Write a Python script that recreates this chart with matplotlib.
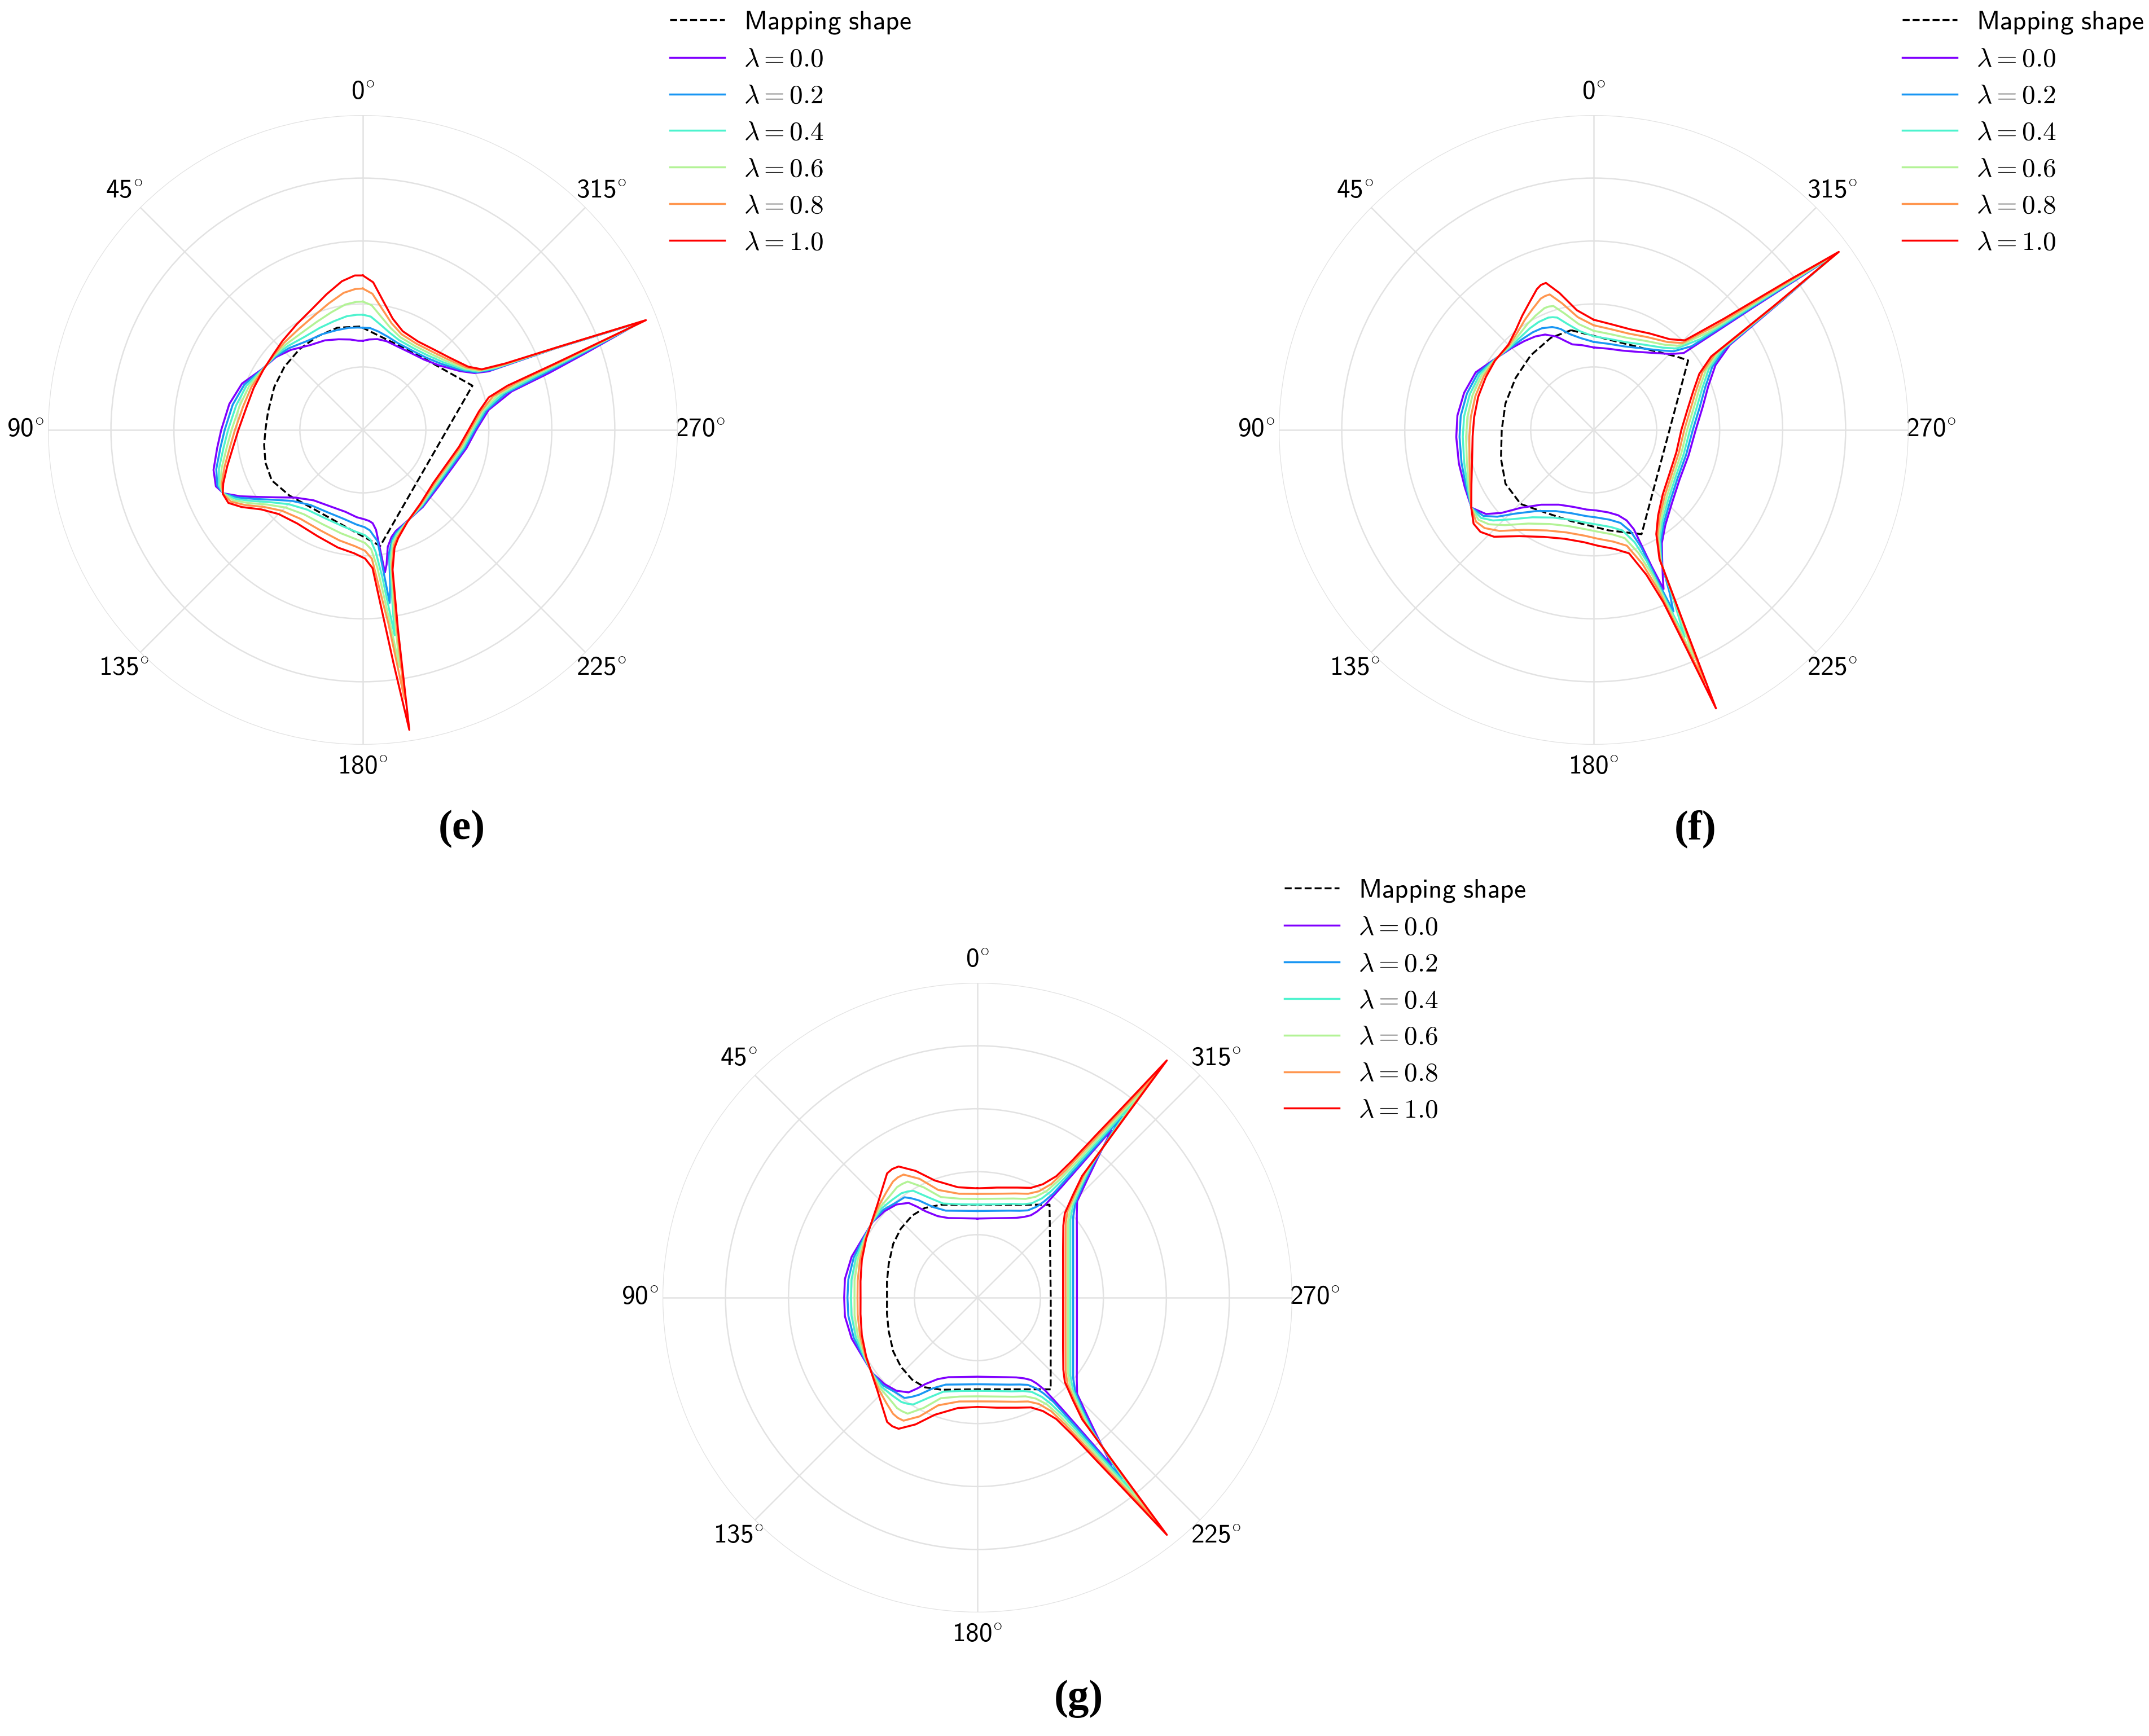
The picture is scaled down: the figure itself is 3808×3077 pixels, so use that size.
import numpy as np
import matplotlib
matplotlib.use("Agg")
import matplotlib.pyplot as plt

# ---- data (angles in degrees, radius in grid-ring units) ----
lambdas = [0.0, 0.2, 0.4, 0.6, 0.8, 1.0]
angle_ticks = [0, 45, 90, 135, 180, 225, 270, 315]

# panel (e)
e_theta = [0, 3, 8, 15, 23, 32, 42, 50, 59, 69, 79,
           90, 97, 105, 111, 114.5, 118.5, 122.5, 128, 135, 145,
           157, 168, 176, 181, 184, 186, 187.5, 188.8, 190, 192,
           195, 198, 206, 218, 233, 247, 260, 270, 279, 284.5,
           287, 289, 291.2, 293, 295, 297, 301, 310, 319, 328,
           338, 345, 351, 356]
e_r_00 = [1.415, 1.418, 1.45, 1.49, 1.545, 1.587, 1.71, 1.80, 1.87, 2.055, 2.16,
          2.249, 2.33, 2.455, 2.50, 2.43, 2.21, 1.98, 1.74, 1.52, 1.365,
          1.32, 1.33, 1.39, 1.42, 1.45, 1.49, 1.6, 2.29, 2.17, 1.90,
          1.76, 1.69, 1.61, 1.55, 1.50, 1.54, 1.67, 1.80, 2.02, 2.44,
          3.09, 3.73, 4.72, 3.3, 2.2, 1.99, 1.81, 1.59, 1.48, 1.44,
          1.435, 1.458, 1.46, 1.44]
e_r_02 = [1.623, 1.628, 1.637, 1.638, 1.652, 1.666, 1.749, 1.812, 1.865, 2.015, 2.105,
          2.194, 2.278, 2.41, 2.475, 2.433, 2.254, 2.04, 1.802, 1.594, 1.455,
          1.423, 1.446, 1.505, 1.545, 1.6, 1.7, 1.78, 2.78, 2.5, 2.0,
          1.80, 1.714, 1.612, 1.537, 1.48, 1.519, 1.646, 1.776, 1.989, 2.365,
          2.952, 3.624, 4.74, 3.316, 2.26, 2.016, 1.838, 1.63, 1.524, 1.483,
          1.486, 1.532, 1.582, 1.622]
e_r_04 = [1.830, 1.831, 1.824, 1.786, 1.759, 1.744, 1.788, 1.824, 1.861, 1.976, 2.049,
          2.140, 2.226, 2.365, 2.45, 2.436, 2.298, 2.10, 1.864, 1.668, 1.545,
          1.526, 1.562, 1.62, 1.67, 1.75, 1.95, 2.35, 3.30, 2.65, 2.08,
          1.83, 1.738, 1.614, 1.524, 1.46, 1.497, 1.622, 1.752, 1.958, 2.29,
          2.814, 3.518, 4.76, 3.332, 2.32, 2.042, 1.866, 1.67, 1.568, 1.526,
          1.537, 1.607, 1.704, 1.804]
e_r_06 = [2.038, 2.036, 2.011, 1.934, 1.866, 1.823, 1.827, 1.836, 1.856, 1.936, 1.994,
          2.085, 2.174, 2.32, 2.425, 2.439, 2.342, 2.16, 1.926, 1.742, 1.635,
          1.629, 1.678, 1.735, 1.794, 1.9, 2.2, 2.8, 3.81, 2.8, 2.15,
          1.86, 1.762, 1.616, 1.511, 1.44, 1.476, 1.598, 1.727, 1.927, 2.215,
          2.676, 3.412, 4.78, 3.348, 2.38, 2.068, 1.894, 1.71, 1.612, 1.569,
          1.588, 1.681, 1.826, 1.986]
e_r_08 = [2.245, 2.242, 2.198, 2.082, 1.973, 1.901, 1.866, 1.848, 1.851, 1.897, 1.938,
          2.031, 2.122, 2.275, 2.40, 2.442, 2.386, 2.22, 1.988, 1.816, 1.725,
          1.732, 1.794, 1.85, 1.919, 2.05, 2.55, 3.1, 4.32, 3.0, 2.22,
          1.90, 1.786, 1.618, 1.498, 1.42, 1.454, 1.574, 1.703, 1.896, 2.14,
          2.538, 3.306, 4.80, 3.364, 2.44, 2.094, 1.922, 1.75, 1.656, 1.612,
          1.639, 1.756, 1.948, 2.168]
e_r_10 = [2.453, 2.456, 2.385, 2.23, 2.08, 1.98, 1.905, 1.86, 1.846, 1.857, 1.883,
          1.976, 2.07, 2.23, 2.375, 2.445, 2.43, 2.28, 2.05, 1.89, 1.815,
          1.835, 1.91, 1.965, 2.044, 2.2, 2.88, 3.75, 4.82, 3.2, 2.27,
          1.94, 1.81, 1.62, 1.485, 1.40, 1.433, 1.55, 1.679, 1.865, 2.065,
          2.40, 3.2, 4.82, 3.38, 2.5, 2.12, 1.95, 1.79, 1.70, 1.655,
          1.69, 1.83, 2.07, 2.35]
e_map_theta = [1.5, 14, 26.1, 38.1, 51.2, 64.2, 79.5, 90, 98.7, 108.6,
               119, 131.8, 188.5, 292, 325.6]
e_map_r = [1.643, 1.673, 1.651, 1.63, 1.599, 1.563, 1.533, 1.547, 1.586, 1.632,
           1.654, 1.564, 1.864, 1.876, 1.47]

# panel (f)
f_theta = [0, 8, 14, 18, 20, 22, 27, 32, 38, 45, 55,
           64, 74, 84, 93, 104, 114, 122.5, 128, 132, 137,
           145, 155, 165, 175, 182, 190, 196, 200, 202, 203,
           203.7, 205, 207, 211, 217, 227, 240, 255, 270, 282,
           291, 298, 302, 304.5, 306, 307.5, 310.5, 314.5, 320, 330,
           340, 350]
f_r_00 = [1.31, 1.36, 1.40, 1.49, 1.545, 1.60, 1.70, 1.75, 1.79, 1.84, 1.94,
          2.085, 2.14, 2.176, 2.185, 2.206, 2.24, 2.30, 2.17, 1.97, 1.69,
          1.45, 1.31, 1.265, 1.27, 1.28, 1.33, 1.41, 1.53, 1.70, 2.35,
          2.76, 2.6, 2.4, 2.1, 1.89, 1.70, 1.575, 1.56, 1.62, 1.77,
          1.95, 2.19, 2.55, 3.65, 4.71, 3.2, 1.88, 1.72, 1.59, 1.43,
          1.34, 1.31]
f_r_02 = [1.398, 1.472, 1.568, 1.683, 1.725, 1.762, 1.812, 1.828, 1.834, 1.855, 1.935,
          2.049, 2.094, 2.123, 2.133, 2.163, 2.217, 2.301, 2.22, 2.06, 1.816,
          1.572, 1.423, 1.37, 1.374, 1.392, 1.448, 1.536, 1.714, 2.0, 2.65,
          3.149, 2.85, 2.38, 2.066, 1.852, 1.66, 1.538, 1.52, 1.574, 1.72,
          1.898, 2.132, 2.48, 3.61, 4.73, 3.34, 2.048, 1.782, 1.648, 1.498,
          1.412, 1.388]
f_r_04 = [1.486, 1.584, 1.736, 1.876, 1.905, 1.924, 1.924, 1.906, 1.878, 1.87, 1.93,
          2.014, 2.047, 2.069, 2.081, 2.12, 2.194, 2.302, 2.27, 2.15, 1.942,
          1.694, 1.536, 1.475, 1.478, 1.504, 1.566, 1.662, 1.898, 2.25, 2.95,
          3.59, 3.05, 2.36, 2.032, 1.814, 1.62, 1.501, 1.48, 1.529, 1.67,
          1.846, 2.074, 2.41, 3.57, 4.75, 3.48, 2.216, 1.844, 1.706, 1.566,
          1.484, 1.466]
f_r_06 = [1.574, 1.696, 1.904, 2.069, 2.085, 2.086, 2.036, 1.984, 1.922, 1.885, 1.925,
          1.978, 2.001, 2.016, 2.029, 2.076, 2.171, 2.303, 2.32, 2.24, 2.068,
          1.816, 1.649, 1.58, 1.582, 1.616, 1.684, 1.788, 2.082, 2.5, 3.2,
          3.959, 3.2, 2.34, 1.998, 1.776, 1.58, 1.464, 1.44, 1.483, 1.62,
          1.794, 2.016, 2.34, 3.53, 4.77, 3.62, 2.384, 1.906, 1.764, 1.634,
          1.556, 1.544]
f_r_08 = [1.662, 1.808, 2.072, 2.262, 2.262, 2.248, 2.148, 2.062, 1.966, 1.90, 1.92,
          1.943, 1.954, 1.962, 1.977, 2.033, 2.148, 2.304, 2.37, 2.33, 2.194,
          1.938, 1.762, 1.685, 1.686, 1.728, 1.802, 1.914, 2.266, 2.75, 3.5,
          4.386, 3.3, 2.32, 1.964, 1.738, 1.54, 1.427, 1.40, 1.438, 1.57,
          1.742, 1.958, 2.27, 3.49, 4.79, 3.76, 2.552, 1.968, 1.822, 1.702,
          1.628, 1.622]
f_r_10 = [1.75, 1.92, 2.24, 2.455, 2.45, 2.41, 2.26, 2.14, 2.01, 1.915, 1.915,
          1.907, 1.908, 1.909, 1.925, 1.99, 2.125, 2.305, 2.42, 2.42, 2.32,
          2.06, 1.875, 1.79, 1.79, 1.84, 1.92, 2.04, 2.45, 2.95, 3.78,
          4.83, 3.35, 2.3, 1.93, 1.70, 1.50, 1.39, 1.36, 1.392, 1.52,
          1.69, 1.90, 2.2, 3.45, 4.81, 3.9, 2.72, 2.03, 1.88, 1.77,
          1.70, 1.70]
f_map_theta = [12.8, 24.9, 40.2, 56.4, 73.2, 90, 107.2, 121.4, 135.4, 150,
               166, 188.55, 204.65, 306.35, 311.4, 342.4]
f_map_r = [1.624, 1.614, 1.55, 1.489, 1.463, 1.46, 1.541, 1.641, 1.652, 1.52,
           1.492, 1.614, 1.822, 1.862, 1.76, 1.452]

# panel (g)
g_theta = [0, 10, 20, 26, 31, 33.5, 36, 41, 47, 54, 62, 72, 82, 90,
           98, 108, 118, 126, 133, 139, 144, 146.5, 149, 154, 160, 170, 180,
           190, 200, 206, 210, 213, 214.65, 216.1, 217.2, 217.9, 218.6,
           219.3, 220.7, 223, 226, 230, 240, 255,
           270, 285, 300, 310, 314, 317, 319.3, 320.7, 321.4, 322.1,
           322.8, 323.9, 325.35, 327, 330, 334, 340, 350]
g_r_00 = [1.256, 1.28, 1.345, 1.44, 1.60, 1.73, 1.86, 1.96, 2.015, 2.052, 2.05, 2.10, 2.125, 2.116,
          2.125, 2.10, 2.05, 2.052, 2.015, 1.96, 1.86, 1.73, 1.60, 1.44, 1.345, 1.28, 1.256,
          1.28, 1.345, 1.41, 1.48, 1.56, 1.66, 1.82, 2.2, 2.65, 3.40,
          3.25, 2.93, 2.55, 2.2, 2.06, 1.824, 1.636,
          1.58, 1.636, 1.824, 2.06, 2.2, 2.55, 2.93, 3.25, 3.40, 2.65,
          2.2, 1.82, 1.66, 1.56, 1.48, 1.41, 1.345, 1.28]
g_r_02 = [1.376, 1.40, 1.47, 1.60, 1.80, 1.89, 1.97, 1.99, 2.045, 2.056, 2.04, 2.065, 2.07, 2.064,
          2.07, 2.065, 2.04, 2.056, 2.045, 1.99, 1.97, 1.89, 1.80, 1.60, 1.47, 1.40, 1.376,
          1.40, 1.47, 1.535, 1.60, 1.72, 1.85, 2.05, 2.5, 2.95, 3.68,
          3.32, 2.85, 2.47, 2.16, 1.984, 1.755, 1.574,
          1.52, 1.574, 1.755, 1.984, 2.16, 2.47, 2.85, 3.32, 3.68, 2.95,
          2.5, 2.05, 1.85, 1.72, 1.60, 1.535, 1.47, 1.40]
g_r_04 = [1.48, 1.505, 1.59, 1.77, 1.98, 2.02, 2.05, 2.06, 2.08, 2.06, 2.03, 2.03, 2.02, 2.008,
          2.02, 2.03, 2.03, 2.06, 2.08, 2.06, 2.05, 2.02, 1.98, 1.77, 1.59, 1.505, 1.48,
          1.505, 1.585, 1.65, 1.73, 1.88, 2.05, 2.35, 2.85, 3.3, 3.97,
          3.4, 2.78, 2.41, 2.11, 1.926, 1.703, 1.527,
          1.475, 1.527, 1.703, 1.926, 2.11, 2.41, 2.78, 3.4, 3.97, 3.3,
          2.85, 2.35, 2.05, 1.88, 1.73, 1.65, 1.585, 1.505]
g_r_06 = [1.568, 1.595, 1.70, 1.95, 2.15, 2.165, 2.17, 2.13, 2.11, 2.062, 2.02, 1.995, 1.97, 1.952,
          1.97, 1.995, 2.02, 2.062, 2.11, 2.13, 2.17, 2.165, 2.15, 1.95, 1.70, 1.595, 1.568,
          1.595, 1.675, 1.745, 1.85, 2.02, 2.25, 2.65, 3.2, 3.65, 4.25,
          3.5, 2.7, 2.35, 2.05, 1.88, 1.663, 1.491,
          1.44, 1.491, 1.663, 1.88, 2.05, 2.35, 2.7, 3.5, 4.25, 3.65,
          3.2, 2.65, 2.25, 2.02, 1.85, 1.745, 1.675, 1.595]
g_r_08 = [1.648, 1.675, 1.82, 2.10, 2.28, 2.29, 2.28, 2.21, 2.14, 2.066, 2.01, 1.96, 1.92, 1.904,
          1.92, 1.96, 2.01, 2.066, 2.14, 2.21, 2.28, 2.29, 2.28, 2.10, 1.82, 1.675, 1.648,
          1.675, 1.76, 1.835, 1.95, 2.15, 2.45, 2.95, 3.5, 3.95, 4.54,
          3.6, 2.62, 2.28, 1.99, 1.83, 1.617, 1.449,
          1.40, 1.449, 1.617, 1.83, 1.99, 2.28, 2.62, 3.6, 4.54, 3.95,
          3.5, 2.95, 2.45, 2.15, 1.95, 1.835, 1.76, 1.675]
g_r_10 = [1.736, 1.78, 1.98, 2.24, 2.43, 2.45, 2.44, 2.30, 2.17, 2.07, 2.00, 1.93, 1.875, 1.856,
          1.875, 1.93, 2.00, 2.07, 2.17, 2.30, 2.44, 2.45, 2.43, 2.24, 1.98, 1.78, 1.736,
          1.775, 1.86, 1.94, 2.08, 2.30, 2.645, 3.19, 3.73, 4.2, 4.82,
          3.69, 2.55, 2.22, 1.93, 1.78, 1.57, 1.408,
          1.36, 1.408, 1.57, 1.78, 1.93, 2.22, 2.55, 3.69, 4.82, 4.2,
          3.73, 3.19, 2.645, 2.30, 2.08, 1.94, 1.86, 1.775]
g_map_theta = [0, 21.3, 30.4, 38.5, 48, 57.4, 69.2, 79.9, 90, 100.1,
               110.8, 122.6, 132, 141.5, 149.6, 158.7, 180, 218.6, 270, 322.2]
g_map_r = [1.476, 1.584, 1.651, 1.665, 1.637, 1.587, 1.507, 1.459, 1.436, 1.459,
           1.507, 1.587, 1.637, 1.665, 1.651, 1.57, 1.456, 1.864, 1.164, 1.868]

# ---- style ----
plt.rcParams["mathtext.fontset"] = "cm"
colors = plt.cm.rainbow(np.linspace(0, 1, len(lambdas)))
grid_color = "#e2e2e2"
fs = 17


def closed(theta, r):
    t = np.append(theta, theta[0] + 360.0)
    return np.deg2rad(t), np.append(r, r[0])


def draw_panel(rect, theta, curves, map_theta, map_r, tag, tag_xy, leg_xy):
    ax = fig.add_axes(rect, projection="polar")
    ax.set_theta_zero_location("N")
    ax.set_theta_direction(1)

    t, r = closed(map_theta, map_r)
    ax.plot(t, r, "--", color="black", lw=1.2, label=r"$\mathsf{Mapping\ shape}$")
    for lam, rr, c in zip(lambdas, curves, colors):
        t, r = closed(theta, rr)
        ax.plot(t, r, color=c, lw=1.25, label=r"$\lambda = %.1f$" % lam,
                solid_joinstyle="round")

    ax.set_ylim(0, 5)
    ax.set_yticks([1, 2, 3, 4, 5])
    ax.set_yticklabels([])
    ax.set_thetagrids(angle_ticks, ["%d$^{\\circ}$" % a for a in angle_ticks],
                      fontsize=fs, family="cmss10")
    ax.tick_params(axis="x", pad=4)
    ax.grid(True, color=grid_color, lw=0.9)
    ax.spines["polar"].set_visible(False)

    ax.legend(loc="upper left", bbox_to_anchor=leg_xy, bbox_transform=fig.transFigure,
              frameon=False, borderpad=0, borderaxespad=0, fontsize=fs,
              handlelength=2.05, handletextpad=0.72, labelspacing=0.42)
    fig.text(tag_xy[0], tag_xy[1], tag, ha="center", va="center", fontsize=27,
             fontweight="bold", family="Liberation Serif")


fig = plt.figure(figsize=(19.04, 15.385), dpi=200)

w, h = 1116 / 3808, 1116 / 3077
draw_panel([85 / 3808, 1 - 1320 / 3077, w, h], e_theta,
           [e_r_00, e_r_02, e_r_04, e_r_06, e_r_08, e_r_10],
           e_map_theta, e_map_r, "(e)", (0.2148, 0.5226), (0.3117, 0.9945))
draw_panel([2266 / 3808, 1 - 1320 / 3077, w, h], f_theta,
           [f_r_00, f_r_02, f_r_04, f_r_06, f_r_08, f_r_10],
           f_map_theta, f_map_r, "(f)", (0.7889, 0.5226), (0.8852, 0.9945))
draw_panel([1174 / 3808, 1 - 2858 / 3077, w, h], g_theta,
           [g_r_00, g_r_02, g_r_04, g_r_06, g_r_08, g_r_10],
           g_map_theta, g_map_r, "(g)", (0.5019, 0.0214), (0.5977, 0.4945))

fig.savefig("out.png", dpi=200)
